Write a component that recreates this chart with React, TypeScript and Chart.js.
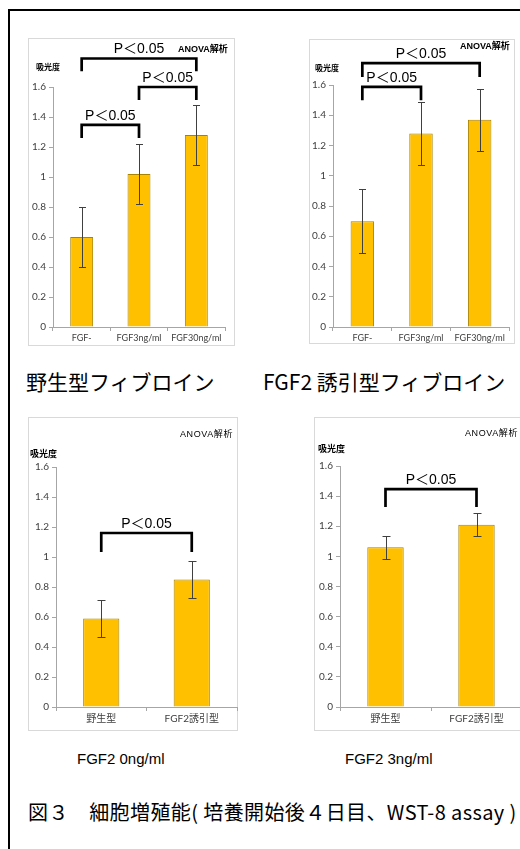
import React, { useEffect, useRef } from 'react';
import { Chart, registerables } from 'chart.js';
Chart.register(...registerables);

// ---------- data ----------
const yTickLabels = ['0', '0.2', '0.4', '0.6', '0.8', '1', '1.2', '1.4', '1.6'];
const pLabel = 'P＜0.05';

const fgfCategories = ['FGF-', 'FGF3ng/ml', 'FGF30ng/ml'];
const typeCategories = ['野生型', 'FGF2誘引型'];

const wildValues = [0.6, 1.02, 1.28];
const wildErrors = [0.2, 0.2, 0.2];
const wildBrackets = [
  { from: 0, to: 2, top: 1.79, leg: 1.705 },
  { from: 1, to: 2, top: 1.6, leg: 1.513 },
  { from: 0, to: 1, top: 1.347, leg: 1.26 },
];

const inducedValues = [0.7, 1.28, 1.37];
const inducedErrors = [0.21, 0.21, 0.205];
const inducedBrackets = [
  { from: 0, to: 2, top: 1.745, leg: 1.653 },
  { from: 0, to: 1, top: 1.587, leg: 1.5 },
];

const fgf0Values = [0.59, 0.85];
const fgf0Errors = [0.125, 0.125];
const fgf0Brackets = [{ from: 0, to: 1, top: 1.16, leg: 1.033 }];

const fgf3Values = [1.06, 1.21];
const fgf3Errors = [0.078, 0.075];
const fgf3Brackets = [{ from: 0, to: 1, top: 1.447, leg: 1.328 }];

// ---------- styling ----------
const CJK = '"Noto Sans CJK JP"';
const SANS = '"Liberation Sans", ' + CJK;
const TICK = 'Lato, ' + CJK;

type Bracket = { from: number; to: number; top: number; leg: number };
type PanelProps = {
  categories: string[];
  values: number[];
  errors: number[];
  brackets: Bracket[];
  left: number; top: number; width: number; height: number;
  padTop: number; padRight: number; padBottom: number;
  yW: number; xH: number;
  xFont: number;
  cap: number;
  anova: { x: number; y: number; bold: boolean; size: number; spacing: number };
  yTitle: { x: number; y: number; size: number };
};

function Panel(p: PanelProps) {
  const ref = useRef<HTMLCanvasElement>(null);
  useEffect(() => {
    const decor = {
      id: 'decor',
      beforeDraw(chart: any) {
        const { ctx, width, height } = chart;
        ctx.save();
        ctx.fillStyle = '#ffffff';
        ctx.fillRect(0, 0, width, height);
        ctx.strokeStyle = '#d9d9d9';
        ctx.lineWidth = 1;
        ctx.strokeRect(0.5, 0.5, width - 1, height - 1);
        ctx.restore();
      },
      afterDatasetsDraw(chart: any) {
        const { ctx } = chart;
        const meta = chart.getDatasetMeta(0);
        const ys = chart.scales.y;
        ctx.save();
        ctx.strokeStyle = '#404040';
        ctx.lineWidth = 1;
        meta.data.forEach((bar: any, i: number) => {
          const v = p.values[i];
          const e = p.errors[i];
          const x = Math.round(bar.x) + 0.5;
          const yh = Math.round(ys.getPixelForValue(v + e)) + 0.5;
          const yl = Math.round(ys.getPixelForValue(v - e)) + 0.5;
          ctx.beginPath();
          ctx.moveTo(x, yh);
          ctx.lineTo(x, yl);
          ctx.moveTo(x - p.cap / 2, yh);
          ctx.lineTo(x + p.cap / 2, yh);
          ctx.moveTo(x - p.cap / 2, yl);
          ctx.lineTo(x + p.cap / 2, yl);
          ctx.stroke();
        });
        ctx.restore();
      },
      afterDraw(chart: any) {
        const { ctx } = chart;
        const meta = chart.getDatasetMeta(0);
        const ys = chart.scales.y;
        ctx.save();
        ctx.strokeStyle = '#000000';
        ctx.lineWidth = 2.7;
        ctx.lineJoin = 'miter';
        ctx.fillStyle = '#000000';
        ctx.font = '14px ' + SANS;
        ctx.textAlign = 'center';
        ctx.textBaseline = 'bottom';
        p.brackets.forEach((b) => {
          const xa = meta.data[b.from].x;
          const xb = meta.data[b.to].x;
          const yt = ys.getPixelForValue(b.top);
          const yl = ys.getPixelForValue(b.leg);
          ctx.beginPath();
          ctx.moveTo(xa, yl);
          ctx.lineTo(xa, yt);
          ctx.lineTo(xb, yt);
          ctx.lineTo(xb, yl);
          ctx.stroke();
          ctx.fillText(pLabel, (xa + xb) / 2, yt - 2);
        });
        ctx.textAlign = 'left';
        ctx.textBaseline = 'middle';
        ctx.font = (p.anova.bold ? 'bold ' : '') + p.anova.size + 'px ' + SANS;
        (ctx as any).letterSpacing = p.anova.spacing + 'px';
        ctx.fillText('ANOVA解析', p.anova.x, p.anova.y);
        (ctx as any).letterSpacing = '0px';
        ctx.font = 'bold ' + p.yTitle.size + 'px ' + SANS;
        ctx.fillText('吸光度', p.yTitle.x, p.yTitle.y);
        ctx.restore();
      },
    };

    const chart = new Chart(ref.current as HTMLCanvasElement, {
      type: 'bar',
      data: {
        labels: p.categories,
        datasets: [
          {
            data: p.values,
            backgroundColor: '#FFC000',
            borderColor: '#a98200',
            borderWidth: 1,
            barPercentage: 0.4,
            categoryPercentage: 1,
          },
        ],
      },
      options: {
        responsive: false,
        animation: false,
        devicePixelRatio: 1,
        layout: { padding: { left: 0, top: p.padTop, right: p.padRight, bottom: p.padBottom } },
        plugins: { legend: { display: false }, tooltip: { enabled: false } },
        scales: {
          x: {
            afterFit: (s: any) => { s.height = p.xH; },
            grid: { display: true, drawOnChartArea: false, tickLength: 4, color: '#a6a6a6', offset: true },
            border: { color: '#a6a6a6' },
            ticks: { color: '#404040', font: { family: TICK, size: p.xFont }, padding: 2, maxRotation: 0, autoSkip: false },
          },
          y: {
            min: 0,
            max: 1.6,
            afterFit: (s: any) => { s.width = p.yW; },
            grid: { display: true, drawOnChartArea: false, tickLength: 4, color: '#a6a6a6' },
            border: { color: '#a6a6a6' },
            ticks: {
              stepSize: 0.2,
              color: '#404040',
              font: { family: TICK, size: 10 },
              padding: 3,
              callback: (_v: any, i: number) => yTickLabels[i],
            },
          },
        },
      },
      plugins: [decor],
    } as any);
    return () => chart.destroy();
  }, []);
  return (
    <canvas
      ref={ref}
      width={p.width}
      height={p.height}
      style={{ position: 'absolute', left: p.left, top: p.top, width: p.width, height: p.height }}
    />
  );
}

const textStyle = (left: number, top: number, size: number, family: string, extra: any = {}) => ({
  position: 'absolute' as const,
  left,
  top,
  fontSize: size,
  lineHeight: size + 'px',
  fontFamily: family,
  whiteSpace: 'nowrap' as const,
  color: '#000',
  ...extra,
});

export default function App() {
  return (
    <div style={{ position: 'absolute', left: 0, top: 0, width: 520, height: 849, overflow: 'hidden', background: '#fff' }}>
      <div style={{ position: 'absolute', left: 8, top: 9, width: 700, height: 1000, borderLeft: '2px solid #000', borderTop: '2px solid #000' }} />

      <Panel
        categories={fgfCategories} values={wildValues} errors={wildErrors} brackets={wildBrackets}
        left={28} top={38} width={207} height={308}
        padTop={49} padRight={10} padBottom={0} yW={25} xH={19} xFont={9} cap={7}
        anova={{ x: 150, y: 12, bold: true, size: 9, spacing: 0 }}
        yTitle={{ x: 8, y: 30, size: 8 }}
      />
      <Panel
        categories={fgfCategories} values={inducedValues} errors={inducedErrors} brackets={inducedBrackets}
        left={309} top={39} width={206} height={305}
        padTop={46} padRight={6} padBottom={0} yW={24} xH={17} xFont={9} cap={7}
        anova={{ x: 151, y: 8, bold: true, size: 9, spacing: 0 }}
        yTitle={{ x: 6, y: 30, size: 8 }}
      />
      <Panel
        categories={typeCategories} values={fgf0Values} errors={fgf0Errors} brackets={fgf0Brackets}
        left={28} top={417} width={210} height={314}
        padTop={50} padRight={1} padBottom={0} yW={28} xH={24} xFont={10} cap={8}
        anova={{ x: 152, y: 18, bold: false, size: 9, spacing: 0.6 }}
        yTitle={{ x: 2, y: 38, size: 9 }}
      />
      <Panel
        categories={typeCategories} values={fgf3Values} errors={fgf3Errors} brackets={fgf3Brackets}
        left={314} top={417} width={210} height={314}
        padTop={49} padRight={2} padBottom={0} yW={26} xH={24} xFont={10} cap={8}
        anova={{ x: 151, y: 17, bold: false, size: 9, spacing: 0.6 }}
        yTitle={{ x: 4, y: 33, size: 9 }}
      />

      <div style={textStyle(26, 371, 21, CJK)}>野生型フィブロイン</div>
      <div style={textStyle(263, 371, 21, CJK)}>FGF2 誘引型フィブロイン</div>
      <div style={textStyle(77, 751, 15, SANS)}>FGF2 0ng/ml</div>
      <div style={textStyle(345, 751, 15, SANS)}>FGF2 3ng/ml</div>
      <div style={textStyle(28, 802, 20, CJK, { letterSpacing: '0.4px' })}>図３　細胞増殖能( 培養開始後４日目、WST-8 assay )</div>
    </div>
  );
}
